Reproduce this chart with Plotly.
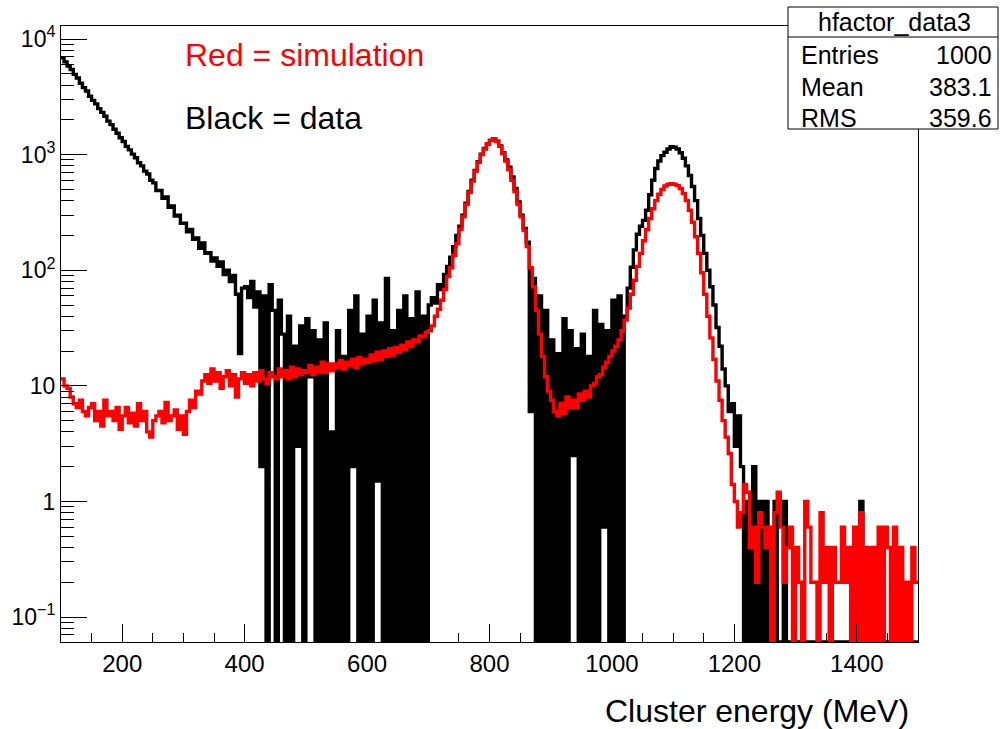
import numpy as np
import plotly.graph_objects as go

# ---------------- data (5 MeV bins from 100 to 1500 MeV) ----------------
bin_low = 100.0
bin_width = 5.0

data_counts = [
    6900, 6350, 5850, 5450, 4950, 4600, 4150, 3800, 3550, 3200,
    2950, 2750, 2500, 2320, 2150, 1950, 1820, 1660, 1530, 1400,
    1300, 1180, 1100, 1010, 940, 850, 800, 720, 680, 600,
    570, 490, 490, 420, 430, 350, 360, 295, 300, 255,
    255, 215, 225, 185, 190, 155, 172, 140, 142, 120,
    128, 108, 118, 92, 100, 80, 90, 62, 19, 70,
    72, 58, 80, 48, 65, 2, 60, 0, 75, 45,
    0, 55, 28, 0, 40, 0, 22, 3, 33, 0,
    38, 12, 30, 0, 25, 0, 35, 0, 4, 0,
    30, 0, 18, 0, 45, 2, 60, 0, 28, 0,
    40, 0, 55, 1.5, 35, 0, 85, 0, 30, 0,
    45, 0, 60, 0, 38, 0, 65, 0, 40, 0,
    50, 58, 52, 75, 68, 92, 108, 130, 160, 200,
    240, 300, 380, 480, 600, 730, 870, 1010, 1130, 1240,
    1330, 1370, 1310, 1190, 1040, 900, 780, 640, 510, 390,
    300, 230, 175, 6, 85, 0, 60, 0, 45, 0,
    25, 0, 19, 0, 38, 0, 30, 2.5, 21, 0,
    28, 0, 18, 0, 45, 0, 34, 0.6, 30, 0,
    55, 0, 60, 0, 40, 70, 106, 150, 205, 240,
    270, 330, 450, 600, 760, 880, 980, 1050, 1120, 1170,
    1160, 1120, 1040, 930, 800, 660, 530, 400, 280, 200,
    140, 100, 72, 50, 32, 22, 14, 10, 6, 7,
    3, 5.5, 2, 0, 1, 0, 2, 0, 1, 0,
    1, 0, 0, 1, 0, 0, 1, 0, 0, 0,
    0, 0, 0, 0, 0, 0, 0, 0, 0, 0,
    0, 0, 0, 0, 0, 0, 0, 0, 0, 0,
    0, 1, 0, 0, 0, 0, 0, 0, 0, 0,
    0, 0, 0, 0, 0, 0, 0, 0, 0, 0,
]

sim_counts = [
    11.5, 10, 9.5, 8, 7, 6.5, 7.5, 6, 5.5, 6.5,
    7, 5, 6, 4.5, 7.5, 5.5, 6, 5, 6.5, 4.2,
    5.5, 6.5, 4.8, 5.8, 4.5, 7, 5, 6, 4, 3.6,
    5, 5.5, 6, 4.8, 7.2, 5, 5.5, 6.2, 4.2, 5.5,
    3.8, 6, 7.5, 6.5, 9, 8.5, 11, 12.5, 10.5, 14,
    11, 13, 9.5, 12, 13.5, 10, 12.5, 8, 11.5, 13,
    10.5, 12.5, 10, 13, 11, 13.5, 11.5, 10.5, 13, 12,
    11.5, 14, 12, 13.5, 11.5, 14.5, 12, 14, 12.5, 13.5,
    13, 15, 12.5, 14.5, 13, 16, 13, 15.5, 13.5, 15.5,
    14.5, 16.5, 14, 16, 15, 17, 14.5, 17.5, 15.5, 17,
    16, 18.5, 16.5, 19.5, 17, 20, 18, 21, 18.5, 21.5,
    19.5, 22.5, 20.5, 24, 22, 25, 24, 27, 26.5, 29,
    30, 33, 40, 46, 55, 68, 88, 105, 135, 170,
    225, 290, 370, 470, 590, 720, 860, 1000, 1120, 1230,
    1330, 1370, 1300, 1180, 1020, 880, 740, 600, 480, 370,
    290, 220, 160, 105, 72, 45, 28, 18, 12, 9,
    7.5, 6, 5.5, 7, 5.8, 8, 6.5, 7.5, 6.5, 8.5,
    7.5, 9, 8, 10, 10.5, 12, 12.5, 14.5, 16, 18,
    20, 22, 25, 30, 37, 47, 62, 82, 108, 140,
    180, 225, 280, 340, 400, 455, 500, 535, 555, 560,
    555, 540, 510, 460, 400, 330, 260, 195, 140, 95,
    62, 40, 26, 17, 11, 7.5, 5, 3.6, 2.6, 1.4,
    1.0, 0.6, 0.8, 1.4, 1.2, 0.4, 0.6, 0.2, 0.8, 0.6,
    0.4, 0.6, 0, 0.8, 1.2, 0.6, 0.2, 0.4, 0.6, 0,
    0.4, 0.2, 0, 1.0, 0.6, 0.2, 0.2, 0, 0.8, 0.2,
    0.4, 0, 0.4, 0.2, 0.2, 0.6, 0.2, 0.4, 0, 0.6,
    0, 0.8, 0, 0.4, 0, 0.4, 0, 0.6, 0, 0.6,
    0.4, 0, 0.6, 0, 0.4, 0, 0.2, 0, 0.4, 0.2,
]

x_major_ticks = [200, 400, 600, 800, 1000, 1200, 1400]
y_major_ticks = [0.1, 1, 10, 100, 1000, 10000]
y_tick_text = ["10<sup>\u22121</sup>", "1", "10", "10<sup>2</sup>", "10<sup>3</sup>", "10<sup>4</sup>"]

stats_title = "hfactor_data3"
stats_rows = [("Entries", "1000"), ("Mean", "383.1"), ("RMS", "359.6")]

# ---------------- layout geometry ----------------
W, H = 1000, 729
L, R, T, B = 61, 918, 26, 642          # frame in pixels
Y_LOG_RANGE = [-1.216, 4.113]
X_RANGE = [100, 1500]
y_floor = 10 ** Y_LOG_RANGE[0]
FONT = "Liberation Sans, Arial, Helvetica, sans-serif"


def px(x):
    return (x - L) / (R - L)


def py(y):
    return (B - y) / (B - T)


def step_xy(counts):
    edges = bin_low + bin_width * np.arange(len(counts) + 1)
    y = [c if c > 0 else y_floor for c in counts]
    y = y + [y[-1]]
    return edges, y


fig = go.Figure()
for counts, color in ((data_counts, "black"), (sim_counts, "#ff0000")):
    ex, ey = step_xy(counts)
    fig.add_trace(go.Scatter(x=ex, y=ey, mode="lines", line=dict(color=color, width=3.4, shape="hv"),
                             showlegend=False, hoverinfo="skip"))

minor_x = [v for v in range(150, 1500, 50) if v not in x_major_ticks]
minor_y = [k * 10.0 ** d for d in range(-2, 5) for k in range(2, 10)]
minor_y = [v for v in minor_y if Y_LOG_RANGE[0] < np.log10(v) < Y_LOG_RANGE[1]]

fig.update_layout(
    width=W, height=H,
    margin=dict(l=L, r=W - R, t=T, b=H - B, pad=0, autoexpand=False),
    paper_bgcolor="white", plot_bgcolor="white",
    font=dict(family=FONT, color="black"),
    xaxis=dict(range=X_RANGE, showgrid=False, zeroline=False, showline=True, mirror=True,
               linecolor="black", linewidth=1, ticks="inside", ticklen=18, tickwidth=1, tickcolor="black",
               tickmode="array", tickvals=x_major_ticks, tickfont=dict(size=24, family=FONT),
               minor=dict(ticks="inside", ticklen=9, tickwidth=1, tickcolor="black",
                          tickmode="array", tickvals=minor_x, showgrid=False)),
    yaxis=dict(type="log", range=Y_LOG_RANGE, showgrid=False, zeroline=False, showline=True, mirror=True,
               linecolor="black", linewidth=1, ticks="inside", ticklen=26, tickwidth=1, tickcolor="black",
               tickmode="array", tickvals=y_major_ticks, ticktext=y_tick_text,
               tickfont=dict(size=23, family=FONT),
               minor=dict(ticks="inside", ticklen=13, tickwidth=1, tickcolor="black",
                          tickmode="array", tickvals=minor_y, showgrid=False)),
)

annotations = [
    dict(text="Red = simulation", x=px(183), y=py(55), xanchor="left", yanchor="middle",
         font=dict(size=32, color="#ff0000", family=FONT)),
    dict(text="Black = data", x=px(183), y=py(118), xanchor="left", yanchor="middle",
         font=dict(size=32, color="black", family=FONT)),
    dict(text="Cluster energy (MeV)", x=px(911), y=py(711), xanchor="right", yanchor="middle",
         font=dict(size=32, color="black", family=FONT)),
    dict(text=stats_title, x=px(894), y=py(22), xanchor="center", yanchor="middle",
         font=dict(size=25, color="black", family=FONT)),
]
row_y = [55, 87, 118]
for (name, val), yy in zip(stats_rows, row_y):
    annotations.append(dict(text=name, x=px(799), y=py(yy), xanchor="left", yanchor="middle",
                            font=dict(size=25, color="black", family=FONT)))
    annotations.append(dict(text=val, x=px(994), y=py(yy), xanchor="right", yanchor="middle",
                            font=dict(size=25, color="black", family=FONT)))
for a in annotations:
    a.update(xref="paper", yref="paper", showarrow=False)
fig.update_layout(annotations=annotations)

fig.update_layout(shapes=[
    dict(type="rect", xref="paper", yref="paper", x0=px(788), x1=px(998), y0=py(129), y1=py(7),
         line=dict(color="black", width=1), fillcolor="white", layer="above"),
    dict(type="line", xref="paper", yref="paper", x0=px(788), x1=px(998), y0=py(37), y1=py(37),
         line=dict(color="black", width=1), layer="above"),
])

fig.write_html("out.html")
